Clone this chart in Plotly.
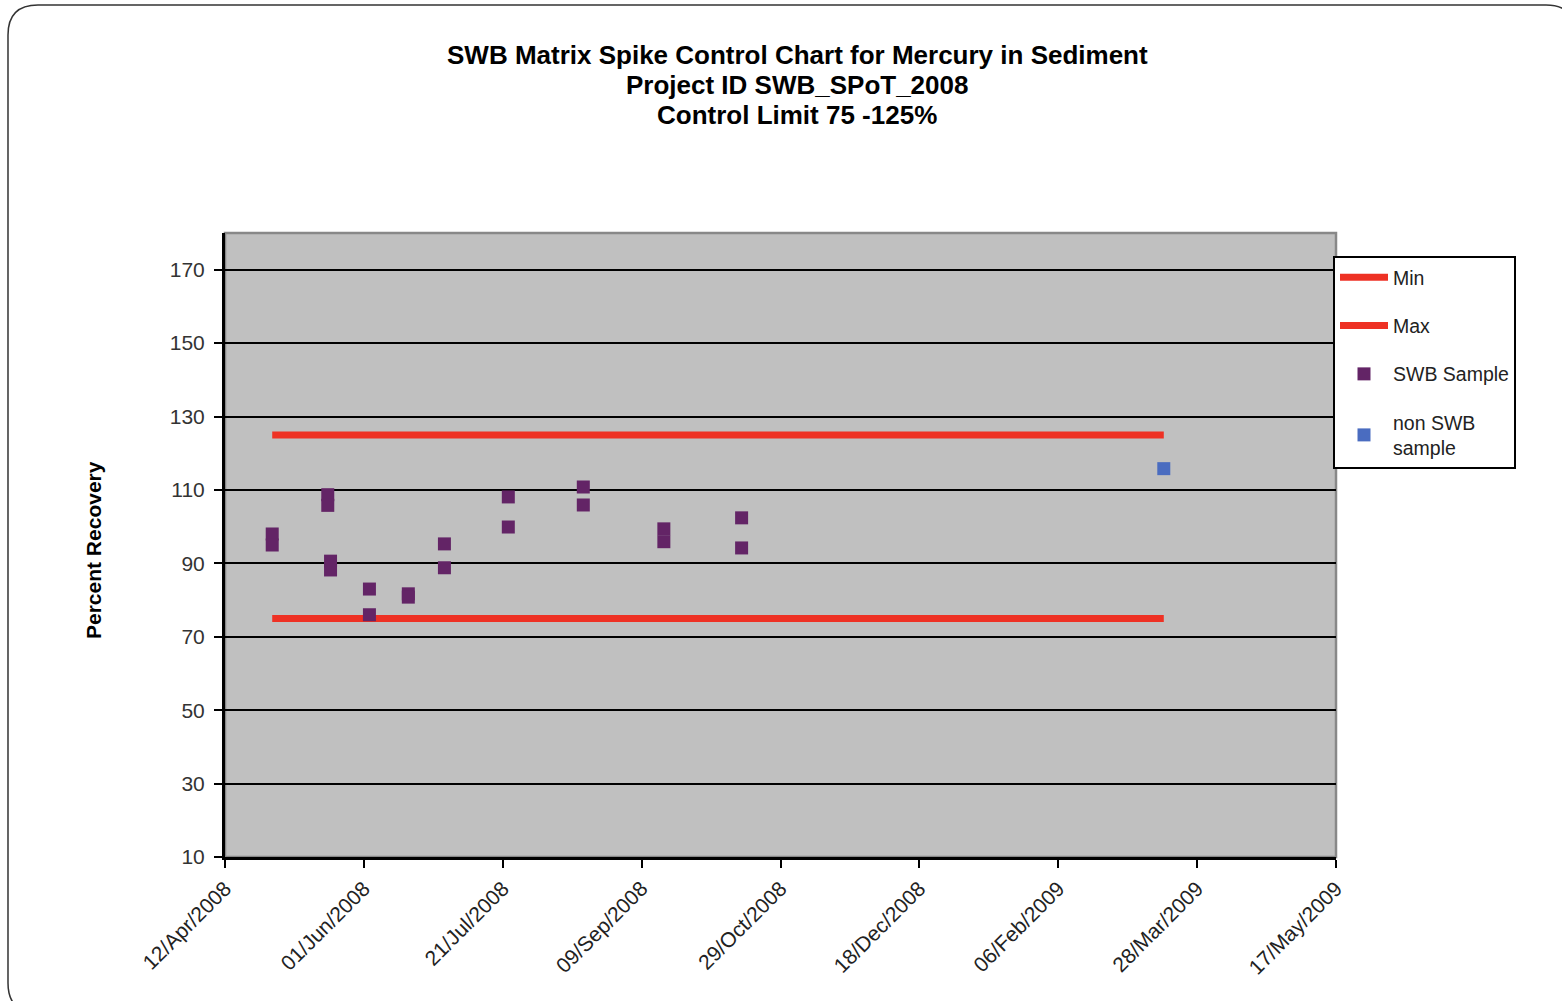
import plotly.graph_objects as go

# ---- data -------------------------------------------------------------
swb_dates = [
    "2008-04-29", "2008-04-29",
    "2008-05-19", "2008-05-19",
    "2008-05-20", "2008-05-20",
    "2008-06-03", "2008-06-03",
    "2008-06-17", "2008-06-17",
    "2008-06-30", "2008-06-30",
    "2008-07-23", "2008-07-23",
    "2008-08-19", "2008-08-19",
    "2008-09-17", "2008-09-17",
    "2008-10-15", "2008-10-15",
]
swb_recovery = [
    98.0, 95.0,
    108.7, 105.8,
    90.6, 88.2,
    83.0, 76.0,
    81.7, 80.8,
    95.3, 88.8,
    108.1, 99.9,
    110.8, 105.9,
    99.4, 95.9,
    102.4, 94.2,
]

non_swb_dates = ["2009-03-16"]
non_swb_recovery = [115.8]

limit_dates = ["2008-04-29", "2009-03-16"]
min_limit = [75, 75]
max_limit = [125, 125]

x_tick_dates = [
    "2008-04-12", "2008-06-01", "2008-07-21", "2008-09-09", "2008-10-29",
    "2008-12-18", "2009-02-06", "2009-03-28", "2009-05-17",
]
x_tick_labels = [
    "12/Apr/2008", "01/Jun/2008", "21/Jul/2008", "09/Sep/2008", "29/Oct/2008",
    "18/Dec/2008", "06/Feb/2009", "28/Mar/2009", "17/May/2009",
]
y_ticks = [10, 30, 50, 70, 90, 110, 130, 150, 170]

title_lines = [
    "SWB Matrix Spike Control Chart for Mercury in Sediment",
    "Project ID SWB_SPoT_2008",
    "Control Limit 75 -125%",
]

# ---- geometry (pixels) -------------------------------------------------
W, H = 1562, 1001
PL, PR, PT, PB = 225, 1336, 233, 857


def px_to_paper(x, y):
    return (x - PL) / (PR - PL), (PB - y) / (PB - PT)


RED = "#EE3124"
PURPLE = "#632466"
BLUE = "#4A6CC0"
FONT = "Liberation Sans"

fig = go.Figure()

fig.add_trace(go.Scatter(
    x=limit_dates, y=min_limit, mode="lines", name="Min",
    line=dict(color=RED, width=7), legendgroup="a",
))
fig.add_trace(go.Scatter(
    x=limit_dates, y=max_limit, mode="lines", name="Max",
    line=dict(color=RED, width=7), legendgroup="b",
))
fig.add_trace(go.Scatter(
    x=swb_dates, y=swb_recovery, mode="markers", name="SWB Sample",
    marker=dict(symbol="square", size=13, color=PURPLE), legendgroup="c",
))
fig.add_trace(go.Scatter(
    x=non_swb_dates, y=non_swb_recovery, mode="markers", name="non SWB<br>sample",
    marker=dict(symbol="square", size=13, color=BLUE), legendgroup="d",
))

# rounded frame around the whole figure
r = 30
fx0, fy0, fx1, fy1 = 8, 5, 1576, 1013


def P(x, y):
    a, b = px_to_paper(x, y)
    return f"{a:.5f},{b:.5f}"


frame_path = (
    f"M {P(fx0, fy0 + r)} Q {P(fx0, fy0)} {P(fx0 + r, fy0)} "
    f"L {P(fx1 - r, fy0)} Q {P(fx1, fy0)} {P(fx1, fy0 + r)} "
    f"L {P(fx1, fy1 - r)} Q {P(fx1, fy1)} {P(fx1 - r, fy1)} "
    f"L {P(fx0 + r, fy1)} Q {P(fx0, fy1)} {P(fx0, fy1 - r)} Z"
)

shapes = [
    dict(type="path", xref="paper", yref="paper", path=frame_path,
         line=dict(color="#333333", width=1.5), layer="below"),
    dict(type="rect", xref="paper", yref="paper", x0=0, x1=1, y0=0, y1=1,
         line=dict(color="#888888", width=2.5), layer="below"),
]

# three-line title, one annotation per line
annotations = []
for text, ypx in zip(title_lines, [55, 85, 115]):
    ax, ay = px_to_paper(797, ypx)
    annotations.append(dict(
        text=f"<b>{text}</b>", x=ax, y=ay, xref="paper", yref="paper",
        showarrow=False, xanchor="center", yanchor="middle",
        font=dict(family=FONT, size=26, color="black"),
    ))

yt_x, yt_y = px_to_paper(93, 550)
annotations.append(dict(
    text="<b>Percent Recovery</b>", x=yt_x, y=yt_y,
    xref="paper", yref="paper", textangle=-90, showarrow=False,
    font=dict(family=FONT, size=21, color="black"),
    xanchor="center", yanchor="middle",
))

fig.update_layout(
    width=W, height=H,
    margin=dict(l=PL, r=W - PR, t=PT, b=H - PB, pad=0),
    paper_bgcolor="white",
    plot_bgcolor="#C0C0C0",
    font=dict(family=FONT, color="#222222"),
    xaxis=dict(
        type="date",
        range=[x_tick_dates[0], x_tick_dates[-1]],
        tickvals=x_tick_dates, ticktext=x_tick_labels,
        tickangle=-45,
        ticks="outside", ticklen=8, tickwidth=2, tickcolor="black",
        showline=True, linecolor="black", linewidth=3,
        showgrid=False, zeroline=False,
        tickfont=dict(family=FONT, size=21, color="#222222"),
    ),
    yaxis=dict(
        range=[10, 180],
        tickvals=y_ticks,
        ticks="outside", ticklen=8, tickwidth=2, tickcolor="black",
        showline=True, linecolor="black", linewidth=3,
        showgrid=True, gridcolor="black", gridwidth=2,
        zeroline=False, ticklabelstandoff=5,
        tickfont=dict(family=FONT, size=21, color="#333333"),
    ),
    legend=dict(
        x=(1333 - PL) / (PR - PL), y=(PB - 256) / (PB - PT),
        xanchor="left", yanchor="top",
        bordercolor="black", borderwidth=2, bgcolor="white",
        font=dict(family=FONT, size=19.5, color="#222222"),
        traceorder="grouped", tracegroupgap=20,
        itemwidth=48,
    ),
    shapes=shapes,
    annotations=annotations,
)

fig.write_html("out.html")
